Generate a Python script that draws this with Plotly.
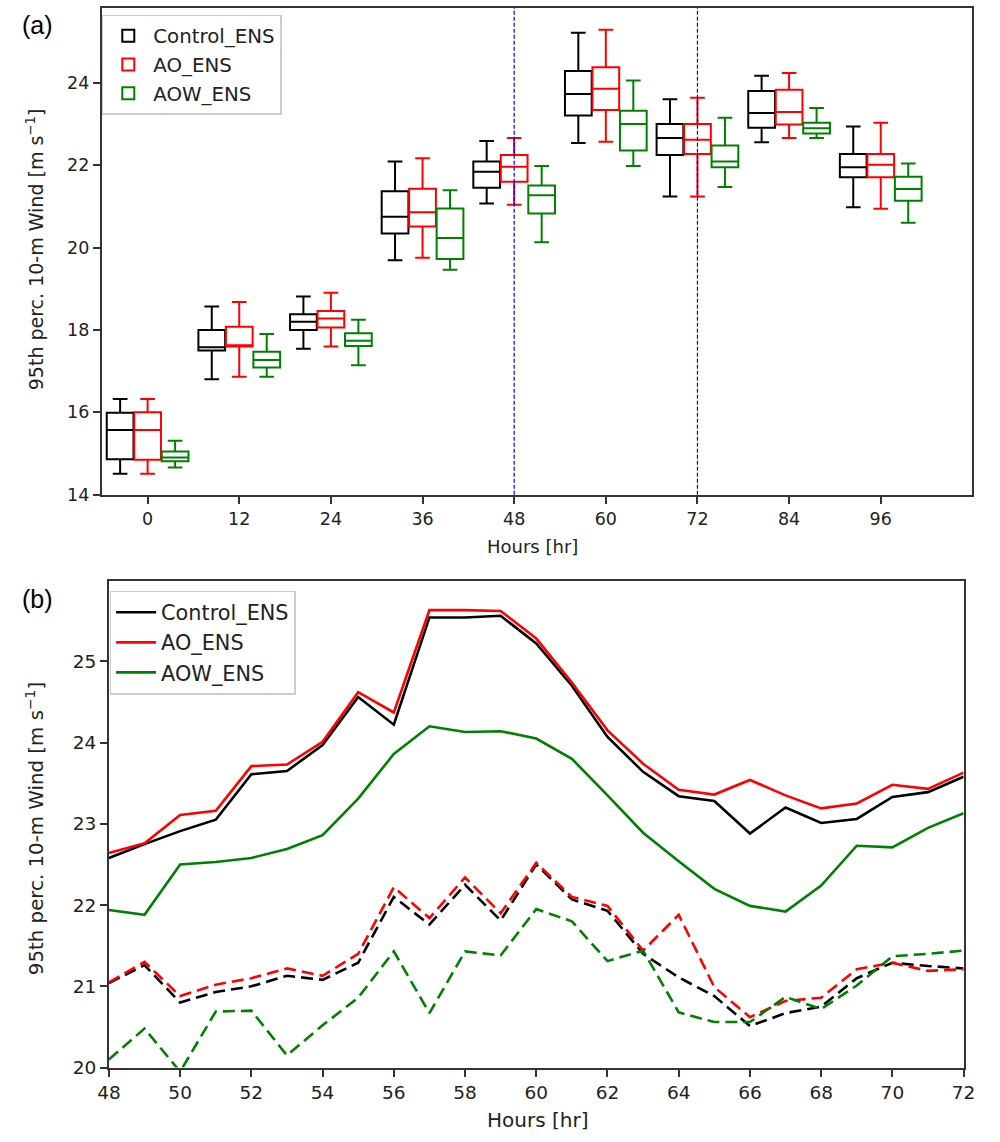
import plotly.graph_objects as go

# ---------------- data: panel (a) box statistics ----------------
hours_box = [0, 12, 24, 36, 48, 60, 72, 84, 96]

ctrl_whislo = [14.51, 16.80, 17.54, 19.69, 21.07, 22.54, 21.24, 22.56, 20.98]
ctrl_q1     = [14.86, 17.50, 18.00, 20.34, 21.45, 23.21, 22.25, 22.91, 21.71]
ctrl_med    = [15.57, 17.58, 18.20, 20.75, 21.84, 23.73, 22.66, 23.27, 21.95]
ctrl_q3     = [15.99, 18.00, 18.38, 21.37, 22.09, 24.29, 23.00, 23.80, 22.27]
ctrl_whishi = [16.32, 18.57, 18.81, 22.09, 22.59, 25.22, 23.60, 24.17, 22.94]

ao_whislo = [14.51, 16.86, 17.60, 19.75, 21.04, 22.57, 21.24, 22.66, 20.94]
ao_q1     = [14.85, 17.60, 18.06, 20.51, 21.60, 23.34, 22.27, 22.99, 21.71]
ao_med    = [15.57, 17.63, 18.28, 20.86, 21.96, 23.86, 22.62, 23.29, 22.01]
ao_q3     = [16.00, 18.08, 18.46, 21.43, 22.25, 24.38, 23.00, 23.83, 22.27]
ao_whishi = [16.32, 18.68, 18.90, 22.17, 22.66, 25.29, 23.64, 24.24, 23.03]

aow_whislo = [14.66, 16.86, 17.14, 19.46, 20.13, 21.98, 21.47, 22.66, 20.60]
aow_q1     = [14.81, 17.09, 17.61, 19.72, 20.83, 22.36, 21.95, 22.77, 21.14]
aow_med    = [14.90, 17.27, 17.74, 20.23, 21.27, 23.00, 22.09, 22.90, 21.42]
aow_q3     = [15.05, 17.47, 17.92, 20.95, 21.51, 23.32, 22.48, 23.03, 21.72]
aow_whishi = [15.31, 17.90, 18.25, 21.39, 21.98, 24.06, 23.15, 23.39, 22.04]

vline_hours = [48, 72]

# ---------------- data: panel (b) hourly lines ----------------
hours_line = list(range(48, 73))

ctrl_solid = [22.58, 22.75, 22.91, 23.05, 23.61, 23.65, 23.97, 24.56, 24.22, 25.54, 25.54, 25.56, 25.22,
              24.70, 24.07, 23.64, 23.34, 23.28, 22.88, 23.20, 23.01, 23.06, 23.33, 23.39, 23.58]
ao_solid = [22.64, 22.76, 23.11, 23.16, 23.71, 23.73, 24.01, 24.62, 24.37, 25.63, 25.63, 25.62, 25.28,
            24.74, 24.15, 23.74, 23.42, 23.36, 23.54, 23.35, 23.19, 23.25, 23.48, 23.43, 23.63]
aow_solid = [21.94, 21.88, 22.50, 22.53, 22.58, 22.69, 22.86, 23.31, 23.86, 24.20, 24.13, 24.14, 24.05,
             23.80, 23.35, 22.89, 22.54, 22.20, 21.99, 21.92, 22.24, 22.73, 22.71, 22.95, 23.13]
ctrl_dash = [21.04, 21.26, 20.80, 20.93, 21.00, 21.13, 21.08, 21.29, 22.10, 21.76, 22.25, 21.81, 22.50,
             22.07, 21.93, 21.40, 21.11, 20.88, 20.51, 20.67, 20.75, 21.10, 21.29, 21.25, 21.22]
ao_dash = [21.05, 21.30, 20.88, 21.02, 21.10, 21.22, 21.13, 21.40, 22.22, 21.84, 22.34, 21.90, 22.52,
           22.10, 21.99, 21.44, 21.88, 20.99, 20.62, 20.82, 20.86, 21.21, 21.29, 21.19, 21.21]
aow_dash = [20.10, 20.48, 19.95, 20.69, 20.70, 20.15, 20.52, 20.86, 21.43, 20.67, 21.43, 21.38, 21.95,
            21.80, 21.31, 21.44, 20.68, 20.56, 20.56, 20.87, 20.72, 21.01, 21.37, 21.40, 21.44]

names = ["Control_ENS", "AO_ENS", "AOW_ENS"]
colors = ["#000000", "#ff0000", "#008000"]
offsets = [-3.6, 0.0, 3.6]

FONT = "DejaVu Sans"
AXC = "#333333"
TXT = "#222222"

fig = go.Figure()

box_stats = [
    (ctrl_whislo, ctrl_q1, ctrl_med, ctrl_q3, ctrl_whishi),
    (ao_whislo, ao_q1, ao_med, ao_q3, ao_whishi),
    (aow_whislo, aow_q1, aow_med, aow_q3, aow_whishi),
]
for name, col, off, (lo, q1, med, q3, hi) in zip(names, colors, offsets, box_stats):
    fig.add_trace(go.Box(
        x=[h + off for h in hours_box],
        lowerfence=lo, q1=q1, median=med, q3=q3, upperfence=hi,
        width=3.5, whiskerwidth=0.55,
        line=dict(color=col, width=2),
        fillcolor="rgba(255,255,255,0)",
        boxpoints=False, name=name,
        xaxis="x", yaxis="y", legend="legend",
    ))

solid = [ctrl_solid, ao_solid, aow_solid]
dashed = [ctrl_dash, ao_dash, aow_dash]
for name, col, ys in zip(names, colors, solid):
    fig.add_trace(go.Scatter(
        x=hours_line, y=ys, mode="lines", name=name,
        line=dict(color=col, width=2.6),
        xaxis="x2", yaxis="y2", legend="legend2",
    ))
for name, col, ys in zip(names, colors, dashed):
    fig.add_trace(go.Scatter(
        x=hours_line, y=ys, mode="lines", name=name, showlegend=False,
        line=dict(color=col, width=2.6, dash="12px,6px"),
        xaxis="x2", yaxis="y2",
    ))

for h in vline_hours:
    fig.add_shape(type="line", xref="x", yref="y domain", x0=h, x1=h, y0=0, y1=1,
                  line=dict(color="#0000ff", width=1.2, dash="4px,2px"), layer="above")

H = 1142.0


def axis_style(size):
    return dict(
        showline=True, linecolor=AXC, linewidth=2, mirror=True,
        ticks="outside", ticklen=7, tickwidth=1.6, tickcolor=AXC,
        showgrid=False, zeroline=False,
        tickfont=dict(family=FONT, size=size, color=TXT),
    )


fig.update_layout(
    width=1000, height=1142,
    margin=dict(l=0, r=0, t=0, b=0),
    paper_bgcolor="white", plot_bgcolor="white",
    showlegend=True, boxmode="overlay",
    font=dict(family=FONT, size=17, color=TXT),
    xaxis=dict(domain=[92 / 1000, 984 / 1000], range=[-6, 108],
               tickvals=hours_box, anchor="y", **axis_style(17.5)),
    yaxis=dict(domain=[1 - 499 / H, 1 - 8 / H], range=[14, 25.82],
               tickvals=[14, 16, 18, 20, 22, 24], anchor="x", **axis_style(17.5)),
    xaxis2=dict(domain=[99.3 / 1000, 975 / 1000], range=[48, 72],
                tickvals=list(range(48, 73, 2)), anchor="y2", **axis_style(18.5)),
    yaxis2=dict(domain=[1 - 1077 / H, 1 - 586 / H], range=[20, 25.99],
                tickvals=[20, 21, 22, 23, 24, 25], anchor="x2", **axis_style(18.5)),
    legend=dict(x=0.092, y=1 - 15 / H, xanchor="left", yanchor="top",
                bordercolor="#cccccc", borderwidth=1.5, bgcolor="rgba(255,255,255,0.8)",
                font=dict(family=FONT, size=19.8, color=TXT), tracegroupgap=2, itemwidth=40),
    legend2=dict(x=0.100, y=1 - 596 / H, xanchor="left", yanchor="top",
                 bordercolor="#cccccc", borderwidth=1.5, bgcolor="rgba(255,255,255,0.8)",
                 font=dict(family=FONT, size=20.8, color=TXT), tracegroupgap=2, itemwidth=40),
)

ytitle = "95th perc. 10-m Wind [m s<sup>−1</sup>]"
annos = [
    dict(text="(a)", x=8 / 1000, y=1 - 25 / H, xanchor="left", yanchor="middle",
         font=dict(family="Liberation Sans", size=25, color="#000")),
    dict(text="(b)", x=8 / 1000, y=1 - 604 / H, xanchor="left", yanchor="middle",
         font=dict(family="Liberation Sans", size=25, color="#000")),
    dict(text="Hours [hr]", x=533 / 1000, y=1 - 551 / H, xanchor="center", yanchor="middle",
         font=dict(family=FONT, size=18, color=TXT)),
    dict(text="Hours [hr]", x=538 / 1000, y=1 - 1130 / H, xanchor="center", yanchor="middle",
         font=dict(family=FONT, size=20, color=TXT)),
    dict(text=ytitle, x=23 / 1000, y=1 - 251 / H, xanchor="center", yanchor="middle",
         textangle=-90, font=dict(family=FONT, size=19, color=TXT)),
    dict(text=ytitle, x=23 / 1000, y=1 - 836 / H, xanchor="center", yanchor="middle",
         textangle=-90, font=dict(family=FONT, size=19.8, color=TXT)),
]
for a in annos:
    fig.add_annotation(xref="paper", yref="paper", showarrow=False, **a)

fig.write_html("out.html", config={"displayModeBar": False},
               post_script="document.body.style.margin='0';document.body.style.padding='0';")
